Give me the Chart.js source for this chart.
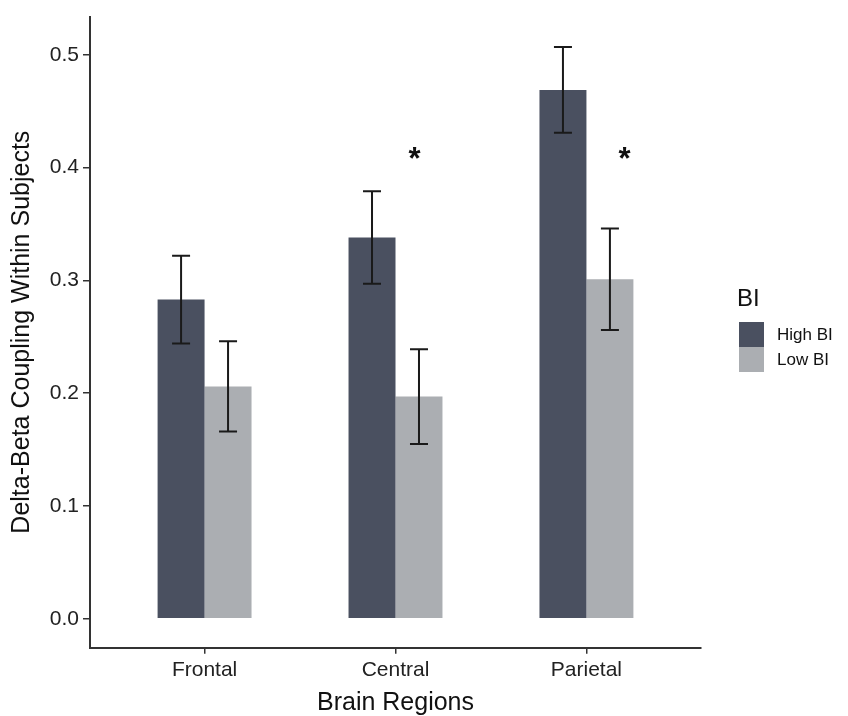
<!DOCTYPE html>
<html>
<head>
<meta charset="utf-8">
<script src="https://cdn.jsdelivr.net/npm/chart.js@4.4.1/dist/chart.umd.min.js"></script>
<style>
  html, body { margin: 0; padding: 0; background: #fff; }
  #wrap { width: 848px; height: 716px; position: relative; }
</style>
</head>
<body>
<div id="wrap"><canvas id="grafico"></canvas></div>
<script>
// ===== Data =====
const regioes = ['Frontal', 'Central', 'Parietal'];
const grupos = ['High BI', 'Low BI'];
const highBI = [0.283, 0.338, 0.469];
const highErr = [0.039, 0.041, 0.038];
const lowBI = [0.206, 0.197, 0.301];
const lowErr = [0.040, 0.042, 0.045];
const yTicks = [0.0, 0.1, 0.2, 0.3, 0.4, 0.5];
// asterisks (x in category units, y in data units)
const sigX = [1.1, 2.2];
const sigY = [0.413, 0.413];

const FONT = '"Liberation Sans", Arial, Helvetica, sans-serif';
const cores = ['#4a5060', '#abaeb2'];

// ===== Plugins =====
const errorBars = {
  id: 'errorBars',
  afterDatasetsDraw(chart) {
    const { ctx } = chart;
    const y = chart.scales.y;
    const erros = [highErr, lowErr];
    ctx.save();
    ctx.strokeStyle = '#1a1a1a';
    ctx.lineWidth = 2;
    chart.data.datasets.forEach((ds, d) => {
      const meta = chart.getDatasetMeta(d);
      meta.data.forEach((bar, i) => {
        const v = ds.data[i].y;
        const yTop = y.getPixelForValue(v + erros[d][i]);
        const yBot = y.getPixelForValue(v - erros[d][i]);
        const cap = 9;
        ctx.beginPath();
        ctx.moveTo(bar.x, yTop); ctx.lineTo(bar.x, yBot);
        ctx.moveTo(bar.x - cap, yTop); ctx.lineTo(bar.x + cap, yTop);
        ctx.moveTo(bar.x - cap, yBot); ctx.lineTo(bar.x + cap, yBot);
        ctx.stroke();
      });
    });
    ctx.restore();
  }
};

const sigMarks = {
  id: 'sigMarks',
  afterDatasetsDraw(chart) {
    const { ctx } = chart;
    const { x, y } = chart.scales;
    ctx.save();
    ctx.font = `bold 31px ${FONT}`;
    ctx.fillStyle = '#111';
    ctx.textAlign = 'center';
    ctx.textBaseline = 'alphabetic';
    const m = ctx.measureText('*');
    const shift = (m.actualBoundingBoxAscent - m.actualBoundingBoxDescent) / 2;
    sigX.forEach((sx, i) => {
      ctx.fillText('*', x.getPixelForValue(sx), y.getPixelForValue(sigY[i]) + shift);
    });
    ctx.restore();
  }
};

const legenda = {
  id: 'legenda',
  afterDraw(chart) {
    const { ctx } = chart;
    ctx.save();
    ctx.fillStyle = '#111';
    ctx.textBaseline = 'middle';
    ctx.textAlign = 'left';
    ctx.font = `24px ${FONT}`;
    ctx.fillText('BI', 737, 299);
    ctx.font = `17px ${FONT}`;
    grupos.forEach((g, i) => {
      const top = 322 + i * 25;
      ctx.fillStyle = cores[i];
      ctx.fillRect(739, top, 25, 25);
      ctx.fillStyle = '#111';
      ctx.fillText(g, 777, top + 13);
    });
    ctx.restore();
  }
};

// ===== Chart =====
function criarGrafico() {
  const eixo = '#333';
  return new Chart(document.getElementById('grafico'), {
    type: 'bar',
    data: {
      datasets: [
        { label: grupos[0], data: highBI.map((v, i) => ({ x: i, y: v })), backgroundColor: cores[0] },
        { label: grupos[1], data: lowBI.map((v, i) => ({ x: i, y: v })), backgroundColor: cores[1] }
      ]
    },
    options: {
      responsive: true,
      maintainAspectRatio: false,
      animation: false,
      categoryPercentage: 0.492,
      barPercentage: 1,
      layout: { padding: { top: 12, right: 147, left: 0, bottom: 0 } },
      plugins: { legend: { display: false }, tooltip: { enabled: false } },
      scales: {
        x: {
          type: 'linear',
          min: -0.6,
          max: 2.6,
          offset: false,
          afterBuildTicks: (s) => { s.ticks = regioes.map((r, i) => ({ value: i })); },
          afterFit: (s) => { s.height = 68.3; },
          grid: { display: true, offset: false, drawOnChartArea: false, drawTicks: true, tickLength: 6, color: eixo, lineWidth: 1.5 },
          border: { display: true, color: eixo, width: 2 },
          ticks: {
            callback: (v) => regioes[v],
            color: '#222',
            padding: 4,
            maxRotation: 0,
            font: { family: FONT, size: 21 }
          },
          title: {
            display: true,
            text: 'Brain Regions',
            color: '#111',
            padding: { top: 0, bottom: 0 },
            font: { family: FONT, size: 25, lineHeight: 1 }
          }
        },
        y: {
          min: -0.0257,
          max: 0.534,
          afterBuildTicks: (s) => { s.ticks = yTicks.map(v => ({ value: v })); },
          afterFit: (s) => { s.width = 90; },
          grid: { display: true, drawOnChartArea: false, drawTicks: true, tickLength: 7, color: eixo, lineWidth: 1.5 },
          border: { display: true, color: eixo, width: 2 },
          ticks: {
            callback: (v) => v.toFixed(1),
            color: '#222',
            padding: 4,
            font: { family: FONT, size: 21 }
          },
          title: {
            display: true,
            text: 'Delta-Beta Coupling Within Subjects',
            color: '#111',
            padding: { top: 10, bottom: 0 },
            font: { family: FONT, size: 25, lineHeight: 1 }
          }
        }
      }
    },
    plugins: [errorBars, sigMarks, legenda]
  });
}

const chart = criarGrafico();
</script>
</body>
</html>
